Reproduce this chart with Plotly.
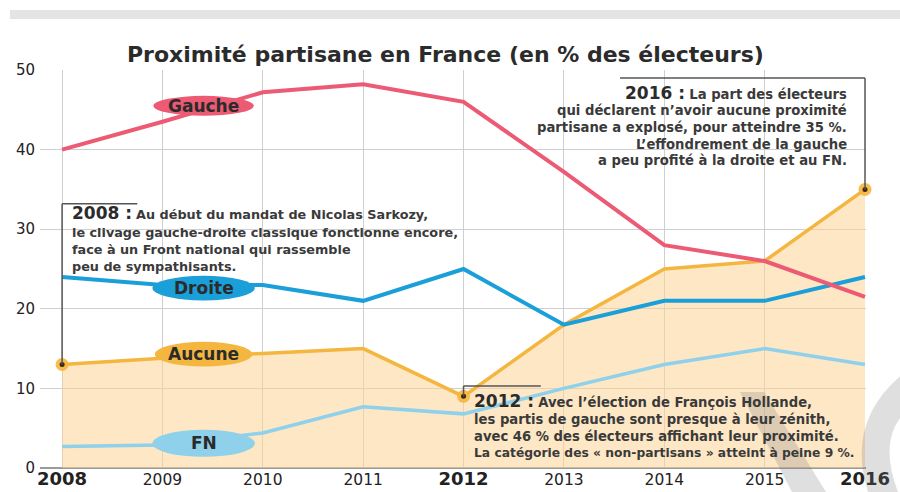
import plotly.graph_objects as go

years = [2008, 2009, 2010, 2011, 2012, 2013, 2014, 2015, 2016]
bold_years = {2008, 2012, 2016}
gauche = [40, 43.5, 47.2, 48.2, 46, 37.2, 28, 26, 21.5]
droite = [24, 23, 23, 21, 25, 18, 21, 21, 24]
aucune = [13, 13.8, 14.4, 15, 9, 18, 25, 26, 35]
fn = [2.7, 2.9, 4.4, 7.7, 6.8, 10, 13, 15, 13]
tick_labels = [("<span style='font-size:18px'><b>%d</b></span>" % y) if y in bold_years else str(y) for y in years]

note_2008 = ["Au début du mandat de Nicolas Sarkozy,",
             "le clivage gauche-droite classique fonctionne encore,",
             "face à un Front national qui rassemble",
             "peu de sympathisants."]
note_2016 = ["La part des électeurs",
             "qui déclarent n’avoir aucune proximité",
             "partisane a explosé, pour atteindre 35 %.",
             "L’effondrement de la gauche",
             "a peu profité à la droite et au FN."]
note_2012 = ["Avec l’élection de François Hollande,",
             "les partis de gauche sont presque à leur zénith,",
             "avec 46 % des électeurs affichant leur proximité.",
             "La catégorie des « non-partisans » atteint à peine 9 %."]

C_G = "#ec5a74"
C_D = "#1a9fd8"
C_A = "#f4b63f"
C_F = "#8fd0ea"
TXT = "#2b2b2b"
NOTE = "#3a3a3a"
FONT = "DejaVu Sans, sans-serif"

L, R, T, B = 40, 34, 70, 24
PW, PH = 900 - L - R, 492 - T - B
def px(x):
    return (x - L) / PW
def py(y):
    return (492 - B - y) / PH

fig = go.Figure()
fig.add_trace(go.Scatter(x=years, y=aucune, mode="lines", line=dict(width=0),
                         fill="tozeroy", fillcolor="rgba(252,212,150,0.55)", hoverinfo="skip"))
fig.add_trace(go.Scatter(x=years, y=fn, mode="lines", line=dict(color=C_F, width=3.5)))
fig.add_trace(go.Scatter(x=years, y=aucune, mode="lines", line=dict(color=C_A, width=3.5)))
fig.add_trace(go.Scatter(x=years, y=droite, mode="lines", line=dict(color=C_D, width=4)))
fig.add_trace(go.Scatter(x=years, y=gauche, mode="lines", line=dict(color=C_G, width=4)))

hl = [0, 4, 8]
fig.add_trace(go.Scatter(x=[years[i] for i in hl], y=[aucune[i] for i in hl], mode="markers",
                         marker=dict(size=13, color="rgba(244,182,63,0.9)"), cliponaxis=False))
fig.add_trace(go.Scatter(x=[years[i] for i in hl], y=[aucune[i] for i in hl], mode="markers",
                         marker=dict(size=5, color="#3a2a10"), cliponaxis=False))

shapes = []
shapes.append(dict(type="rect", xref="paper", yref="paper", x0=px(10), x1=px(900), y0=py(19), y1=py(10),
                   fillcolor="#e4e4e4", line=dict(width=0), layer="below"))

labels = [("Gauche", 45.5, C_G, 1.0, 2.5), ("Droite", 22.6, C_D, 1.02, 3.1),
          ("Aucune", 14.3, C_A, 0.97, 3.1), ("FN", 3.1, C_F, 1.02, 3.4)]
annotations = []
for name, yv, col, w, h in labels:
    xc = 2009.41
    shapes.append(dict(type="circle", xref="x", yref="y", x0=xc - w / 2, x1=xc + w / 2,
                       y0=yv - h / 2, y1=yv + h / 2, fillcolor=col, line=dict(width=0), layer="above"))
    annotations.append(dict(x=xc, y=yv, xref="x", yref="y", text="<b>" + name + "</b>", showarrow=False,
                            font=dict(family=FONT, size=17, color=TXT)))

LC = "#555555"
def seg(x0, y0, x1, y1):
    return dict(type="line", xref="x", yref="y", x0=x0, x1=x1, y0=y0, y1=y1, line=dict(color=LC, width=1.5))
shapes += [seg(2008, aucune[0], 2008, 33.2), seg(2008, 33.2, 2008.75, 33.2),
           seg(2016, aucune[8], 2016, 49.0), seg(2013.56, 49.0, 2016, 49.0),
           seg(2012, aucune[4], 2012, 10.3), seg(2012, 10.3, 2012.77, 10.3)]

WM = "rgba(120,120,120,0.24)"
shapes.append(dict(type="path", xref="paper", yref="paper", layer="above",
                   path="M %f,%f L %f,%f L %f,%f L %f,%f Z" % (px(740), py(392), px(764), py(392),
                                                               px(826), py(492), px(792), py(492)),
                   fillcolor=WM, line=dict(width=0)))
shapes.append(dict(type="path", xref="paper", yref="paper", layer="above",
                   path="M %f,%f Q %f,%f %f,%f L %f,%f Q %f,%f %f,%f Z" % (
                       px(905), py(372), px(845), py(420), px(868), py(492),
                       px(898), py(492), px(878), py(440), px(905), py(412)),
                   fillcolor=WM, line=dict(width=0)))

BIG = "<span style='font-size:17px;color:#2b2b2b'><b>%s</b></span> "
def block(year_txt, lines, x, ys, anchor, sizes):
    for i, (line, yy, sz) in enumerate(zip(lines, ys, sizes)):
        t = "<b>" + line + "</b>"
        if i == 0:
            t = BIG % year_txt + t
        annotations.append(dict(x=px(x), y=py(yy), xref="paper", yref="paper", xanchor=anchor,
                                yanchor="middle", showarrow=False, text=t, borderpad=0,
                                font=dict(family=FONT, size=sz, color=NOTE)))

block("2008 :", note_2008, 71, [213, 232, 249, 266], "left", [12.8] * 4)
block("2016 :", note_2016, 848, [93, 111, 127, 144, 160], "right", [13.2] * 5)
block("2012 :", note_2012, 473, [401, 419, 436, 453], "left", [13.2, 13.2, 13.2, 12.3])

annotations.append(dict(x=px(445), y=py(40), xref="paper", yref="paper", showarrow=False,
                        text="<b>Proximité partisane en France (en % des électeurs)</b>",
                        font=dict(family=FONT, size=22, color=TXT)))

fig.update_layout(
    width=900, height=492, margin=dict(l=L, r=R, t=T, b=B, autoexpand=False),
    paper_bgcolor="white", plot_bgcolor="white", showlegend=False,
    shapes=shapes, annotations=annotations,
    font=dict(family=FONT, color=TXT),
    xaxis=dict(range=[2007.78, 2016.01], tickmode="array", tickvals=years, ticktext=tick_labels,
               showgrid=True, gridcolor="#cfcfcf", gridwidth=1, zeroline=False, showline=False,
               tickfont=dict(size=15.5, color="#222"), ticks="", automargin=False, ticklabelstandoff=0),
    yaxis=dict(range=[0, 50], tickvals=[0, 10, 20, 30, 40, 50], showgrid=True, gridcolor="#cfcfcf",
               zeroline=True, zerolinecolor="#9a9a9a", zerolinewidth=1.5, showline=False,
               tickfont=dict(size=15, color="#222"), ticks="", automargin=False,
               ticklabelstandoff=4, tickprefix="<b>", ticksuffix="</b>"),
)
fig.write_html("out.html", config={"displayModeBar": False},
               post_script="document.body.style.margin='0px';")
